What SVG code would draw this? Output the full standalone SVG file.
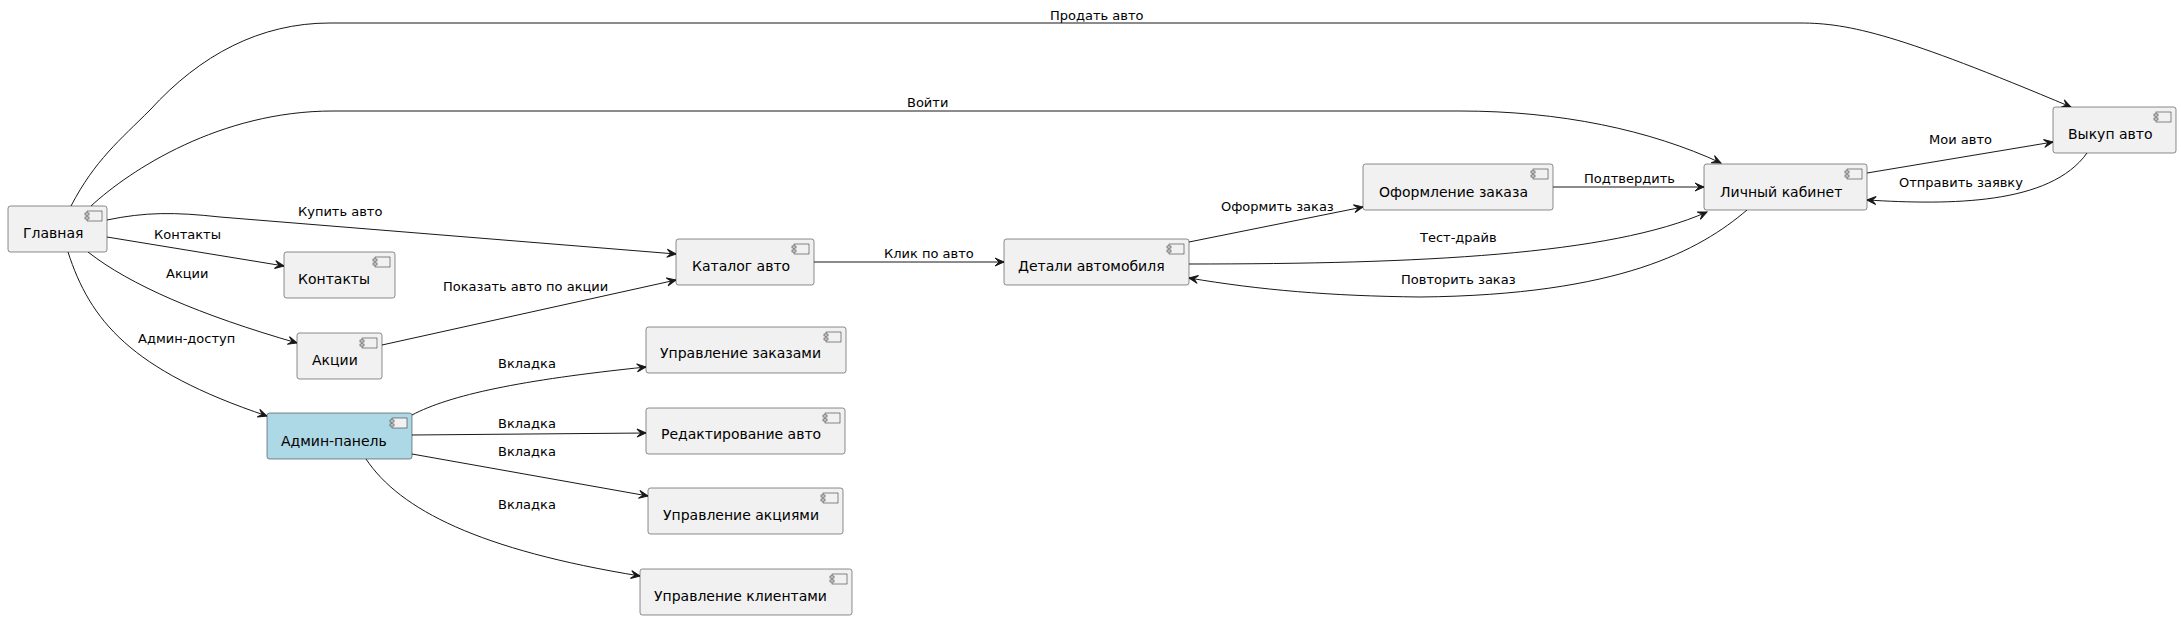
<svg xmlns="http://www.w3.org/2000/svg" width="2181" height="620" viewBox="0 0 2181 620">
<style>
.node rect.box{fill:#F1F1F1;stroke:#181818;stroke-width:0.5;}
.node rect.blue{fill:#ADD8E6;}
.icon{fill:#F1F1F1;stroke:#181818;stroke-width:0.5;}
.nt{font-family:"DejaVu Sans",sans-serif;font-size:14px;fill:#000;}
.lbl{font-family:"DejaVu Sans",sans-serif;font-size:13px;fill:#000;}
.edge{fill:none;stroke:#181818;stroke-width:1;marker-end:url(#arr);}
</style>
<defs>
<marker id="arr" markerUnits="userSpaceOnUse" viewBox="-10 -5 11 10" refX="0" refY="0" markerWidth="11" markerHeight="10" orient="auto">
<path d="M0,0 L-9,-4 L-5,0 L-9,4 Z" fill="#181818" stroke="#181818" stroke-width="1"/>
</marker>
<g id="cicon">
<rect class="icon" x="-20" y="5" width="15" height="10"/>
<rect class="icon" x="-22" y="7" width="4" height="2"/>
<rect class="icon" x="-22" y="11" width="4" height="2"/>
</g>
</defs>
<rect width="2181" height="620" fill="#FFFFFF"/>

<g id="connectors">
<path class="edge" d="M71,206 C95,160 120,140 150,110 C200,55 260,23 330,23 L1800,23 C1850,23 1900,35 2071,107"/>
<path class="edge" d="M91,206 C130,170 220,111 333,111 L1460,111 C1560,111 1650,130 1721,163"/>
<path class="edge" d="M107,220 C145,212 175,212 220,217 L676,254"/>
<path class="edge" d="M107,237 L284,266"/>
<path class="edge" d="M88,252 C130,285 200,315 297,343"/>
<path class="edge" d="M68,252 C90,320 130,370 267,416"/>
<path class="edge" d="M382,345 L676,280"/>
<path class="edge" d="M814,262 L1004,262"/>
<path class="edge" d="M1189,242 L1363,207"/>
<path class="edge" d="M1189,264 C1420,264 1610,255 1707,212"/>
<path class="edge" d="M1747,210 C1700,250 1620,295 1420,297 C1330,296 1260,290 1189,278"/>
<path class="edge" d="M1553,187 L1704,187"/>
<path class="edge" d="M1867,173 L2053,142"/>
<path class="edge" d="M2087,153 C2050,205 1950,205 1867,200"/>
<path class="edge" d="M412,415 C450,395 520,380 646,367"/>
<path class="edge" d="M412,435 L646,433"/>
<path class="edge" d="M412,454 L648,496"/>
<path class="edge" d="M366,459 C400,510 480,550 640,576"/>
<text class="lbl" x="1050" y="20">Продать авто</text>
<text class="lbl" x="907" y="107">Войти</text>
<text class="lbl" x="298" y="216">Купить авто</text>
<text class="lbl" x="154" y="239">Контакты</text>
<text class="lbl" x="166" y="278">Акции</text>
<text class="lbl" x="443" y="291">Показать авто по акции</text>
<text class="lbl" x="138" y="343">Админ-доступ</text>
<text class="lbl" x="884" y="258">Клик по авто</text>
<text class="lbl" x="1221" y="211">Оформить заказ</text>
<text class="lbl" x="1420" y="242">Тест-драйв</text>
<text class="lbl" x="1401" y="284">Повторить заказ</text>
<text class="lbl" x="1584" y="183">Подтвердить</text>
<text class="lbl" x="1929" y="144">Мои авто</text>
<text class="lbl" x="1899" y="187">Отправить заявку</text>
<text class="lbl" x="498" y="368">Вкладка</text>
<text class="lbl" x="498" y="428">Вкладка</text>
<text class="lbl" x="498" y="456">Вкладка</text>
<text class="lbl" x="498" y="509">Вкладка</text>
</g>

<g id="main" class="node"><rect class="box" x="8" y="206" width="99" height="46" rx="2.5"/><use href="#cicon" x="107" y="206"/><text class="nt" x="23" y="238">Главная</text></g>
<g id="contacts" class="node"><rect class="box" x="284" y="252" width="111" height="46" rx="2.5"/><use href="#cicon" x="395" y="252"/><text class="nt" x="298" y="284">Контакты</text></g>
<g id="promo" class="node"><rect class="box" x="297" y="333" width="85" height="46" rx="2.5"/><use href="#cicon" x="382" y="333"/><text class="nt" x="312" y="365">Акции</text></g>
<g id="admin" class="node"><rect class="box blue" x="267" y="413" width="145" height="46" rx="2.5"/><use href="#cicon" x="412" y="413"/><text class="nt" x="281" y="446">Админ-панель</text></g>
<g id="catalog" class="node"><rect class="box" x="676" y="239" width="138" height="46" rx="2.5"/><use href="#cicon" x="814" y="239"/><text class="nt" x="692" y="271">Каталог авто</text></g>
<g id="details" class="node"><rect class="box" x="1004" y="239" width="185" height="46" rx="2.5"/><use href="#cicon" x="1189" y="239"/><text class="nt" x="1018" y="271">Детали автомобиля</text></g>
<g id="checkout" class="node"><rect class="box" x="1363" y="164" width="190" height="46" rx="2.5"/><use href="#cicon" x="1553" y="164"/><text class="nt" x="1379" y="197">Оформление заказа</text></g>
<g id="account" class="node"><rect class="box" x="1704" y="164" width="163" height="46" rx="2.5"/><use href="#cicon" x="1867" y="164"/><text class="nt" x="1720" y="197">Личный кабинет</text></g>
<g id="buyback" class="node"><rect class="box" x="2053" y="107" width="123" height="46" rx="2.5"/><use href="#cicon" x="2176" y="107"/><text class="nt" x="2068" y="139">Выкуп авто</text></g>
<g id="orders" class="node"><rect class="box" x="646" y="327" width="200" height="46" rx="2.5"/><use href="#cicon" x="846" y="327"/><text class="nt" x="660" y="358">Управление заказами</text></g>
<g id="editcars" class="node"><rect class="box" x="646" y="408" width="199" height="46" rx="2.5"/><use href="#cicon" x="845" y="408"/><text class="nt" x="661" y="439">Редактирование авто</text></g>
<g id="promos" class="node"><rect class="box" x="648" y="488" width="195" height="46" rx="2.5"/><use href="#cicon" x="843" y="488"/><text class="nt" x="663" y="520">Управление акциями</text></g>
<g id="clients" class="node"><rect class="box" x="640" y="569" width="212" height="46" rx="2.5"/><use href="#cicon" x="852" y="569"/><text class="nt" x="654" y="601">Управление клиентами</text></g>
</svg>
